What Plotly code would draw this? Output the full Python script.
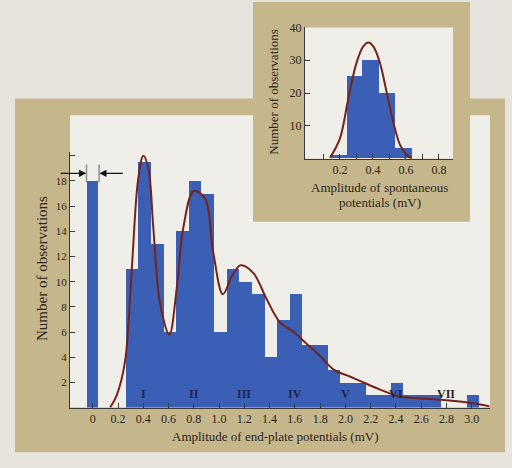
import plotly.graph_objects as go

# ---------------- data ----------------
# main histogram: amplitude of end-plate potentials (mV)
bin_centers = [0.31, 0.41, 0.51, 0.61, 0.71, 0.81, 0.91, 1.01, 1.11, 1.21,
               1.31, 1.41, 1.51, 1.61, 1.71, 1.81, 1.91, 2.01, 2.11, 2.21,
               2.31, 2.41, 2.51, 2.61, 2.71, 2.81, 2.91, 3.01]
counts = [11, 19.5, 13, 6, 14, 18, 17, 6, 11, 10,
          9, 4, 7, 9, 5, 5, 3, 2, 2, 1,
          1, 2, 1, 1, 1, 0, 0, 1]
failures_x = [0]
failures_count = [18]
expected_failures = 18.6

# fitted curve (main)
curve_x = [0.137, 0.19, 0.255, 0.308, 0.36, 0.40, 0.44, 0.479, 0.532, 0.606,
           0.664, 0.717, 0.80, 0.888, 0.954, 1.03, 1.10, 1.17, 1.27, 1.377,
           1.48, 1.59, 1.69, 1.80, 1.91, 2.04, 2.12, 2.27, 2.42, 2.60,
           2.80, 3.01, 3.14]
curve_y = [0, 1.0, 3.65, 10.9, 18.2, 20.0, 19.0, 14.3, 8.3, 5.8,
           9.4, 14.3, 17.2, 16.6, 12.3, 9.0, 10.4, 11.3, 10.7, 8.6,
           6.8, 6.0, 5.1, 4.1, 3.0, 2.45, 2.1, 1.45, 0.9, 0.72,
           0.58, 0.35, 0.1]

# roman numeral markers (quantal multiples)
numeral_x = [0.4, 0.8, 1.2, 1.6, 2.0, 2.4, 2.8]
numeral_text = ["I", "II", "III", "IV", "V", "VI", "VII"]

x_tickvals = [0, 0.2, 0.4, 0.6, 0.8, 1.0, 1.2, 1.4, 1.6, 1.8, 2.0, 2.2, 2.4, 2.6, 2.8, 3.0]
x_ticktext = ["0", "0.2", "0.4", "0.6", "0.8", "1.0", "1.2", "1.4", "1.6", "1.8",
              "2.0", "2.2", "2.4", "2.6", "2.8", "3.0"]
y_tickvals = [2, 4, 6, 8, 10, 12, 14, 16, 18, 20]
y_ticktext = ["2", "4", "6", "8", "10", "12", "14", "16", "18", ""]

# inset: spontaneous potentials
inset_centers = [0.19, 0.29, 0.385, 0.485, 0.585]
inset_counts = [1, 25, 30, 20, 3]
inset_curve_x = [0.14, 0.20, 0.25, 0.30, 0.341, 0.372, 0.402, 0.442, 0.483, 0.523, 0.564, 0.604, 0.635]
inset_curve_y = [0.3, 6.2, 18.2, 29.2, 34.2, 35.4, 34.2, 29.2, 20.2, 11.2, 4.2, 1.2, 0]
inset_x_tickvals = [0.1, 0.2, 0.3, 0.4, 0.5, 0.6, 0.7, 0.8]
inset_x_ticktext = ["", "0.2", "", "0.4", "", "0.6", "", "0.8"]
inset_y_tickvals = [10, 20, 30, 40]

# ---------------- style ----------------
W, H = 512, 468
PAGE = "#e6e4dc"
TAN = "#c5b68b"
WHITE = "#efeee9"
BLUE = "#3b5fb4"
CURVE = "#74241a"
INK = "#2b2620"
NAVY = "#1d2550"
FONT = "Liberation Serif, serif"


def px(x):
    return x / W


def py(y):
    return 1 - y / H


fig = go.Figure()

fig.add_trace(go.Bar(x=bin_centers, y=counts, width=0.1, marker=dict(color=BLUE, line=dict(width=0)),
                     xaxis="x", yaxis="y"))
fig.add_trace(go.Bar(x=failures_x, y=failures_count, width=0.087, marker=dict(color=BLUE, line=dict(width=0)),
                     xaxis="x", yaxis="y"))
fig.add_trace(go.Scatter(x=curve_x, y=curve_y, mode="lines",
                         line=dict(color=CURVE, width=2, shape="spline", smoothing=1.0),
                         xaxis="x", yaxis="y"))

fig.add_trace(go.Bar(x=inset_centers, y=inset_counts, width=0.1, marker=dict(color=BLUE, line=dict(width=0)),
                     xaxis="x2", yaxis="y2"))
fig.add_trace(go.Scatter(x=inset_curve_x, y=inset_curve_y, mode="lines",
                         line=dict(color=CURVE, width=2, shape="spline", smoothing=1.0),
                         xaxis="x2", yaxis="y2"))

shapes = [
    # main tan frame
    dict(type="rect", xref="paper", yref="paper", x0=px(15), x1=px(505), y0=py(452), y1=py(93),
         fillcolor=TAN, line=dict(width=0), layer="below"),
    # main white area
    dict(type="rect", xref="paper", yref="paper", x0=px(70), x1=px(490), y0=py(406.7), y1=py(110),
         fillcolor=WHITE, line=dict(width=0), layer="below"),
    # inset tan panel
    dict(type="rect", xref="paper", yref="paper", x0=px(253), x1=px(470), y0=py(218), y1=py(-5),
         fillcolor=TAN, line=dict(width=0), layer="below"),
    # inset white plot area
    dict(type="rect", xref="paper", yref="paper", x0=px(305), x1=px(453), y0=py(154), y1=py(20.7),
         fillcolor=WHITE, line=dict(width=0), layer="below"),
    # bracket above failure bar
    dict(type="line", xref="x", yref="y", x0=-0.05, x1=-0.05, y0=17.9, y1=19.3,
         line=dict(color="#8e8e8a", width=1.5)),
    dict(type="line", xref="x", yref="y", x0=0.05, x1=0.05, y0=17.9, y1=19.3,
         line=dict(color="#8e8e8a", width=1.5)),
]

annotations = []
for xv, t in zip(numeral_x, numeral_text):
    annotations.append(dict(x=xv, y=1.07, xref="x", yref="y", text="<b>%s</b>" % t, showarrow=False,
                            font=dict(family=FONT, size=12, color=(INK if t == "VII" else NAVY)),
                            xanchor="center", yanchor="middle"))
# arrows marking expected number of failures
annotations.append(dict(x=-0.052, y=expected_failures, xref="x", yref="y", text="", showarrow=True,
                        ax=-27, ay=0, axref="pixel", ayref="pixel", arrowhead=2, arrowsize=1.1,
                        arrowwidth=1.3, arrowcolor="#111"))
annotations.append(dict(x=0.052, y=expected_failures, xref="x", yref="y", text="", showarrow=True,
                        ax=25, ay=0, axref="pixel", ayref="pixel", arrowhead=2, arrowsize=1.1,
                        arrowwidth=1.3, arrowcolor="#111"))
# titles
annotations += [
    dict(x=px(275), y=py(436), xref="paper", yref="paper", text="Amplitude of end-plate potentials (mV)",
         showarrow=False, font=dict(family=FONT, size=13, color=INK), xanchor="center", yanchor="middle"),
    dict(x=px(42), y=py(266), xref="paper", yref="paper", text="Number of observations", textangle=-90,
         showarrow=False, font=dict(family=FONT, size=15, color=INK), xanchor="center", yanchor="middle"),
    dict(x=px(379), y=py(183), xref="paper", yref="paper", text="Amplitude of spontaneous",
         showarrow=False, font=dict(family=FONT, size=13, color=INK), xanchor="center", yanchor="middle"),
    dict(x=px(380), y=py(198), xref="paper", yref="paper", text="potentials (mV)",
         showarrow=False, font=dict(family=FONT, size=13, color=INK), xanchor="center", yanchor="middle"),
    dict(x=px(274), y=py(86), xref="paper", yref="paper", text="Number of observations", textangle=-90,
         showarrow=False, font=dict(family=FONT, size=13, color=INK), xanchor="center", yanchor="middle"),
]

axis_common = dict(showgrid=False, zeroline=False, showline=True, linecolor="#3a3a3a", linewidth=1,
                   ticks="inside", ticklen=5, tickcolor="#3a3a3a", tickwidth=1, fixedrange=True)

fig.update_layout(
    width=W, height=H, margin=dict(l=0, r=0, t=0, b=0),
    paper_bgcolor=PAGE, plot_bgcolor="rgba(0,0,0,0)",
    showlegend=False, barmode="overlay", bargap=0,
    xaxis=dict(domain=[px(70), px(490)], range=[-0.1805, 3.145], anchor="y",
               tickmode="array", tickvals=x_tickvals, ticktext=x_ticktext,
               tickfont=dict(family=FONT, size=12, color=INK), **axis_common),
    yaxis=dict(domain=[py(406.7), py(147.1)], range=[0, 20.3], anchor="x",
               tickmode="array", tickvals=y_tickvals, ticktext=y_ticktext,
               tickfont=dict(family=FONT, size=11, color=INK), **axis_common),
    xaxis2=dict(domain=[px(305), px(453)], range=[-0.012, 0.885], anchor="y2",
                tickmode="array", tickvals=inset_x_tickvals, ticktext=inset_x_ticktext,
                tickfont=dict(family=FONT, size=12, color=INK), **axis_common),
    yaxis2=dict(domain=[py(154), py(20.7)], range=[0, 40], anchor="x2",
                tickmode="array", tickvals=inset_y_tickvals,
                tickfont=dict(family=FONT, size=12, color=INK), **axis_common),
    shapes=shapes, annotations=annotations,
)

fig.write_html("out.html")
